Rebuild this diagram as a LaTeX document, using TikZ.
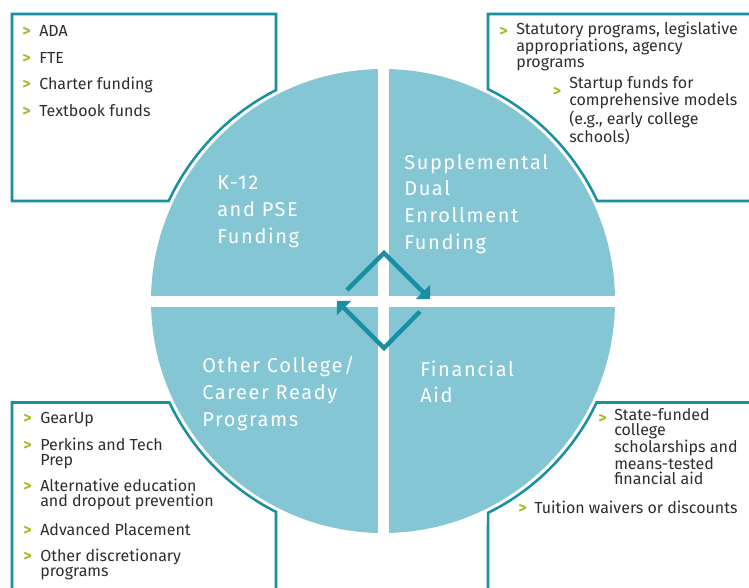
\documentclass[tikz,border=0pt]{standalone}
\usepackage{fontspec}
\setmainfont{Fira Sans}
\newfontfamily\quadfont[LetterSpace=8]{Fira Sans}
\usetikzlibrary{arrows.meta}

\definecolor{quadfill}{RGB}{132,198,211}
\definecolor{tealline}{RGB}{24,143,163}
\definecolor{bulgreen}{RGB}{160,190,40}
\definecolor{listgray}{RGB}{45,45,45}

% multi-line nodes sit on the baseline of their last line
\tikzset{
  quadlbl/.style={anchor=base west, inner sep=0pt, align=left, text=white, font=\quadfont\fontsize{15}{20}\selectfont},
  listtxt/.style={anchor=base west, inner sep=0pt, align=left, text=listgray, font=\fontsize{12}{11.4}\selectfont},
  bul/.style={anchor=base west, inner sep=0pt, text=bulgreen, font=\bfseries\fontsize{12}{11.4}\selectfont},
  boxline/.style={draw=tealline, line width=1.9pt},
  cyclearrow/.style={draw=tealline, line width=3.3pt, -{Triangle[width=15pt,length=7.5pt]}}
}

\begin{document}
\begin{tikzpicture}[x=0.75pt,y=0.75pt,yscale=-1,xscale=1]
\useasboundingbox (0,0) rectangle (749,587);

%Shape: Circle with white cross
\fill[quadfill] (383,301) circle[radius=232];
\fill[white] (377.5,60) rectangle (388.5,545);
\fill[white] (140,295.7) rectangle (625,306.5);

%Shape: corner boxes
\draw[boxline] (12,14) -- (276,14) -- (276,90.1) arc[start angle=243.10, end angle=205.02, radius=236.5] -- (12,201) -- cycle;
\draw[boxline] (760,14) -- (488,14) -- (488,89.1) arc[start angle=296.36, end angle=334.98, radius=236.5] -- (760,201);
\draw[boxline] (12,600) -- (12,402.5) -- (169.4,402.5) arc[start angle=154.58, end angle=116.90, radius=236.5] -- (276,600);
\draw[boxline] (760,402.5) -- (596.6,402.5) arc[start angle=25.42, end angle=63.64, radius=236.5] -- (488,600);

%Cycle arrows
\coordinate (upS) at (347,290);
\coordinate (upTop) at (384,253);
\coordinate (upE) at (430,299);
\coordinate (loS) at (420,311.5);
\coordinate (loBot) at (384,348);
\coordinate (loE) at (337,301);
\draw[cyclearrow] (upS) -- (upTop) -- (upE);
\draw[cyclearrow] (loS) -- (loBot) -- (loE);

% Quadrant labels
\node[quadlbl] (kfund) at (217,243.3) {K-12\\and PSE\\Funding};
\node[quadlbl] (supp) at (404,249) {Supplemental\\Dual\\Enrollment\\Funding};
\node[quadlbl] (other) at (202,426.3) {Other College/\\Career Ready\\Programs};
\node[quadlbl] (finaid) at (420,402.7) {Financial\\Aid};

% Top left list
\node[bul] (bada) at (22,36) {>};
\node[listtxt] (ada) at (39,36) {ADA};
\node[bul] (bfte) at (22,63) {>};
\node[listtxt] (fte) at (39,63) {FTE};
\node[bul] (bcharter) at (22,89) {>};
\node[listtxt] (charter) at (39,89) {Charter funding};
\node[bul] (btextbook) at (22,116) {>};
\node[listtxt] (textbook) at (39,116) {Textbook funds};

% Top right list
\node[bul] (bstatutory) at (499,36.7) {>};
\node[listtxt] (statutory) at (516,67.1) {Statutory programs, legislative\\appropriations, agency\\programs};
\node[bul] (bstartup) at (552.5,96.7) {>};
\node[listtxt] (startup) at (569,142.3) {Startup funds for\\comprehensive models\\(e.g., early college\\schools)};

% Bottom left list
\node[bul] (bgearup) at (23,423.3) {>};
\node[listtxt] (gearup) at (40,423.3) {GearUp};
\node[bul] (bperkins) at (23,450) {>};
\node[listtxt] (perkins) at (40,465.2) {Perkins and Tech\\Prep};
\node[bul] (baltedu) at (23,491.7) {>};
\node[listtxt] (altedu) at (40,506.9) {Alternative education\\and dropout prevention};
\node[bul] (badvplace) at (23,535) {>};
\node[listtxt] (advplace) at (40,535) {Advanced Placement};
\node[bul] (botherdisc) at (23,561.7) {>};
\node[listtxt] (otherdisc) at (40,576.9) {Other discretionary\\programs};

% Bottom right list
\node[bul] (bstatefund) at (598,423.3) {>};
\node[listtxt] (statefund) at (614,484.5) {State-funded\\college\\scholarships and\\means-tested\\financial aid};
\node[bul] (btuition) at (518,513) {>};
\node[listtxt] (tuition) at (534,513) {Tuition waivers or discounts};

\end{tikzpicture}
\end{document}
